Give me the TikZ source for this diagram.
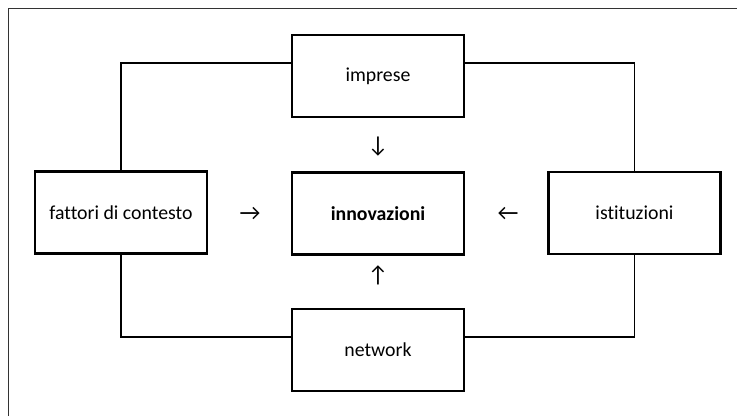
\documentclass[tikz,border=0pt]{standalone}
\usepackage{fontspec}
\setmainfont{Carlito}[Ligatures=NoCommon]
\usetikzlibrary{calc, positioning}

\begin{document}
\begin{tikzpicture}[
    x=1pt, y=1pt,
    blk/.style={draw=black, line width=2.2pt, minimum width=172pt, minimum height=82pt, inner sep=0pt, font=\fontsize{19.8}{23}\selectfont},
    lnk/.style={draw=black, line width=1.2pt},
    arr/.style={font=\fontsize{23}{26}\selectfont, inner sep=0pt},
]
\useasboundingbox (0,0) rectangle (737,416);

% === outer frame (cut by the page) ===
\draw[black!80, line width=0.9pt] (8,0) -- (8,408) -- (737,408);

% === boxes ===
\node[blk] (imprese) at (378, 340) {imprese};
\node[blk] (innov) at (378, 202.5) {\bfseries innovazioni};
\node[blk] (contesto) at (121, 203.5) {fattori di contesto};
\node[blk] (istituz) at (634.5, 203) {istituzioni};
\node[blk] (network) at (378, 66) {network};

% === frame lines between the outer boxes ===
\draw[lnk] ($(imprese.west)+(0,13)$) -| (contesto.north);
\draw[lnk] ($(imprese.east)+(0,13)$) -| (istituz.north);
\draw[lnk] ($(network.west)+(0,13)$) -| (contesto.south);
\draw[lnk] ($(network.east)+(0,13)$) -| (istituz.south);

% === arrows as text ===
\node[arr] (adown) at (378, 269) {↓};
\node[arr] (aup) at (378, 141) {↑};
\node[arr] (aright) at (250, 202) {→};
\node[arr] (aleft) at (508, 202) {←};
\end{tikzpicture}
\end{document}
